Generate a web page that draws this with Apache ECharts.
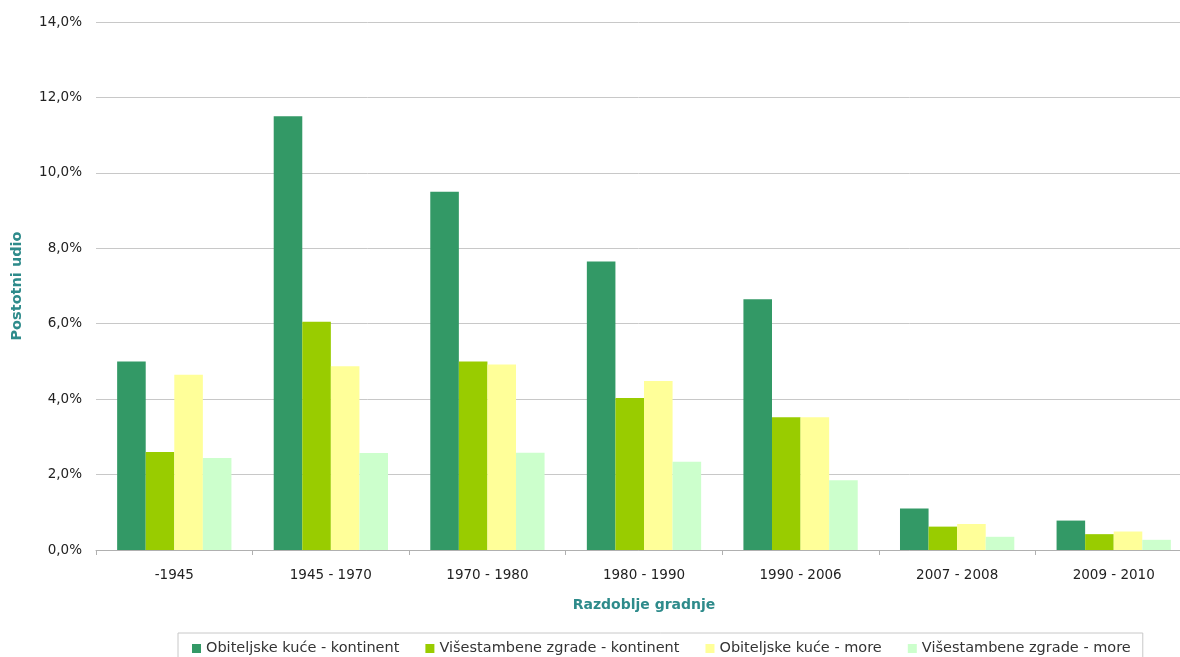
<!DOCTYPE html>
<html>
<head>
<meta charset="utf-8">
<script src="https://cdn.jsdelivr.net/npm/echarts@6/dist/echarts.min.js"></script>
<style>
  html, body { margin: 0; padding: 0; background: #ffffff; }
  #chart { width: 1180px; height: 657px; }
</style>
</head>
<body>
<div id="chart"></div>
<script>
// Razdoblja gradnje (kategorije na osi X)
const categories = ['-1945', '1945 - 1970', '1970 - 1980', '1980 - 1990', '1990 - 2006', '2007 - 2008', '2009 - 2010'];

// Postotni udio po seriji (%)
const obiteljskeKontinent = [5.0, 11.5, 9.5, 7.65, 6.65, 1.1, 0.78];
const visestambeneKontinent = [2.6, 6.05, 5.0, 4.03, 3.52, 0.62, 0.42];
const obiteljskeMore = [4.65, 4.87, 4.92, 4.48, 3.52, 0.69, 0.49];
const visestambeneMore = [2.44, 2.57, 2.58, 2.34, 1.85, 0.35, 0.27];

const seriesNames = [
  'Obiteljske kuće - kontinent',
  'Višestambene zgrade - kontinent',
  'Obiteljske kuće - more',
  'Višestambene zgrade - more'
];
const seriesColors = ['#339966', '#99cc00', '#ffff99', '#ccffcc'];
const seriesData = [obiteljskeKontinent, visestambeneKontinent, obiteljskeMore, visestambeneMore];

const fontFamily = '"DejaVu Sans", Verdana, sans-serif';
const titleColor = '#2e8b8b';

const chart = echarts.init(document.getElementById('chart'), null, { renderer: 'canvas' });

chart.setOption({
  animation: false,
  backgroundColor: '#ffffff',
  // the plot runs slightly past the right edge of the canvas
  grid: { left: 96, right: -12, top: 22, bottom: 107, containLabel: false, outerBoundsMode: 'none' },
  legend: {
    left: 178,
    top: 633,
    padding: [8, 12, 10, 14],
    borderColor: '#c8c8c8',
    borderWidth: 1,
    itemWidth: 9,
    itemHeight: 9,
    itemGap: 26,
    icon: 'rect',
    textStyle: { fontFamily: fontFamily, fontSize: 14.5, color: '#333' },
    data: seriesNames
  },
  xAxis: {
    type: 'category',
    data: categories,
    name: 'Razdoblje gradnje',
    nameLocation: 'middle',
    nameGap: 48,
    nameTextStyle: { fontFamily: fontFamily, fontWeight: 'bold', fontSize: 14, color: titleColor },
    axisLine: { lineStyle: { color: '#b0b0b0', width: 1 } },
    axisTick: { show: true, alignWithLabel: false, length: 5, lineStyle: { color: '#b0b0b0' } },
    axisLabel: { fontFamily: fontFamily, fontSize: 13.5, color: '#222', margin: 18 }
  },
  yAxis: {
    type: 'value',
    min: 0,
    max: 14,
    interval: 2,
    name: 'Postotni udio',
    nameLocation: 'middle',
    nameGap: 71,
    nameRotate: 90,
    nameTextStyle: { fontFamily: fontFamily, fontWeight: 'bold', fontSize: 14.5, color: titleColor },
    axisLine: { show: false },
    axisTick: { show: false },
    axisLabel: {
      fontFamily: fontFamily,
      fontSize: 13.5,
      color: '#222',
      margin: 14,
      formatter: function (v) { return v.toFixed(1).replace('.', ',') + '%'; }
    },
    splitLine: { lineStyle: { color: '#c8c8c8', width: 1 } }
  },
  series: seriesNames.map(function (name, i) {
    return {
      name: name,
      type: 'bar',
      data: seriesData[i],
      itemStyle: { color: seriesColors[i] },
      barGap: '0%',
      barCategoryGap: '27%'
    };
  })
});
</script>
</body>
</html>
